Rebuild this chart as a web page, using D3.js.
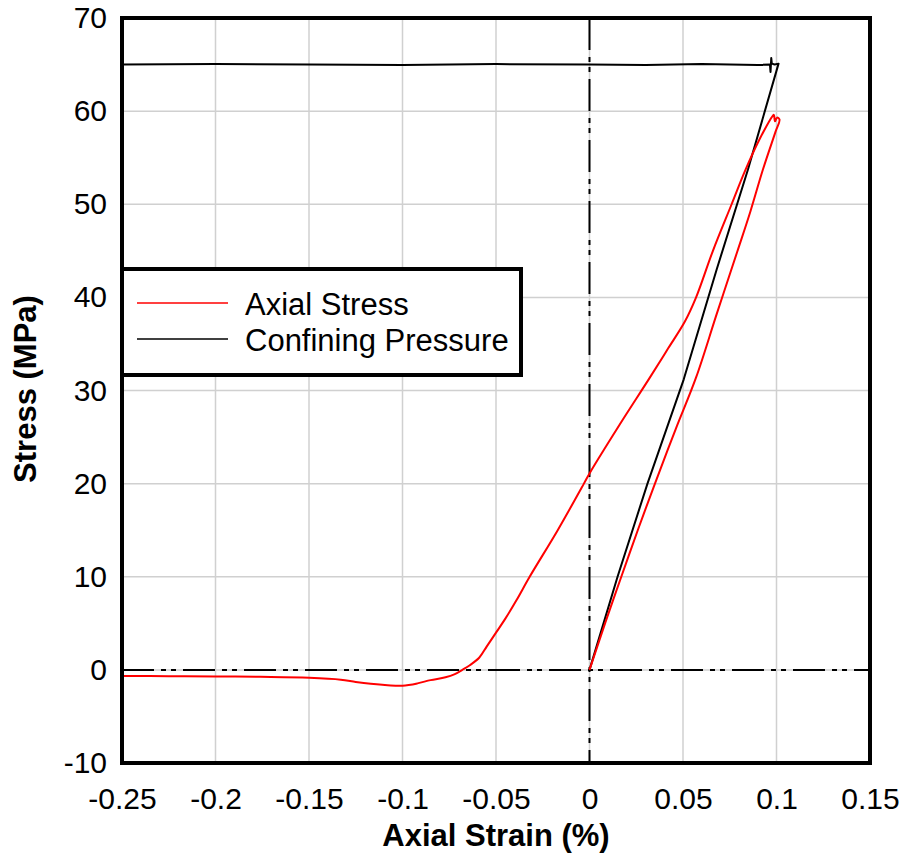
<!DOCTYPE html>
<html>
<head>
<meta charset="utf-8">
<script src="https://cdn.jsdelivr.net/npm/d3@7"></script>
<style>
  body { margin: 0; background: #fff; }
  svg { display: block; }
</style>
</head>
<body>
<svg id="mysvg"></svg>
<script>
// ticks
let xTicks = [-0.25, -0.2, -0.15, -0.1, -0.05, 0, 0.05, 0.1, 0.15];
let xTickLabels = ["-0.25", "-0.2", "-0.15", "-0.1", "-0.05", "0", "0.05", "0.1", "0.15"];
let yTicks = [-10, 0, 10, 20, 30, 40, 50, 60, 70];
let yTickLabels = ["-10", "0", "10", "20", "30", "40", "50", "60", "70"];

// Axial Stress: strain (%) and stress (MPa)
let axialStrain = [0, 0.0085, 0.017, 0.026, 0.035, 0.046, 0.057, 0.068, 0.079, 0.086, 0.0927, 0.0995, 0.1016,
    0.1003, 0.0992, 0.0986, 0.098,
    0.091, 0.083, 0.076, 0.066, 0.057, 0.051, 0.042, 0.032, 0.016, 0, -0.003, -0.017, -0.032, -0.039,
    -0.045, -0.05, -0.055, -0.059, -0.064, -0.068, -0.072, -0.077, -0.085, -0.092, -0.1, -0.108,
    -0.117, -0.125, -0.133, -0.15, -0.176, -0.2, -0.225, -0.25];
let axialStress = [0, 5.1, 10, 15.1, 20, 25.8, 31.4, 38.2, 44.9, 49.2, 53.7, 57.8, 59.1,
    59.3, 58.9, 59.6, 59.5,
    57.0, 53.5, 50.0, 45.0, 40.0, 37.4, 34.5, 31.3, 26.3, 21.1, 20, 15, 10, 7.5,
    5.5, 4.0, 2.5, 1.3, 0.5, 0, -0.45, -0.8, -1.1, -1.45, -1.7, -1.65,
    -1.5, -1.3, -1.05, -0.85, -0.75, -0.7, -0.68, -0.65];

// Confining Pressure
let confStrain = [0, 0.015, 0.031, 0.0504, 0.068, 0.0847, 0.1011, 0.099, 0.0975, 0.0972, 0.0968, 0.0965,
    0.09, 0.06, 0.03, 0, -0.05, -0.1, -0.15, -0.2, -0.25];
let confPressure = [0, 10, 20, 31.2, 43.0, 53.7, 65.1, 65.0, 65.1, 65.7, 64.2, 65.0,
    64.95, 65.05, 64.95, 65.0, 65.05, 64.95, 65.0, 65.05, 65.0];

let axialData = axialStrain.map(function(d, i) { return {x: d, y: axialStress[i]}; });
let confData = confStrain.map(function(d, i) { return {x: d, y: confPressure[i]}; });

let fontFamily = "'Liberation Sans', Arial, sans-serif";

function draw() {
    var svg = d3.select("#mysvg")
        .attr("width", 906)
        .attr("height", 856);

    var left = 122, top = 18;
    var width = 748, height = 745;

    var x = d3.scaleLinear().domain([-0.25, 0.15]).range([0, width]);
    var y = d3.scaleLinear().domain([-10, 70]).range([height, 0]);

    var g = svg.append("g")
        .attr("transform", "translate(" + left + "," + top + ")");

    // grid
    g.append("g")
        .selectAll("line")
        .data(xTicks)
        .enter().append("line")
        .attr("x1", function(d) { return x(d); })
        .attr("x2", function(d) { return x(d); })
        .attr("y1", 0)
        .attr("y2", height)
        .attr("stroke", "#d0d0d0")
        .attr("stroke-width", 1.5);

    g.append("g")
        .selectAll("line")
        .data(yTicks)
        .enter().append("line")
        .attr("x1", 0)
        .attr("x2", width)
        .attr("y1", function(d) { return y(d); })
        .attr("y2", function(d) { return y(d); })
        .attr("stroke", "#d0d0d0")
        .attr("stroke-width", 1.5);

    // zero lines, dash-dot-dot
    g.append("line")
        .attr("x1", 0).attr("x2", width)
        .attr("y1", y(0)).attr("y2", y(0))
        .attr("stroke", "#000")
        .attr("stroke-width", 2)
        .attr("stroke-dasharray", "32,7,5,5,5,7");

    g.append("line")
        .attr("x1", x(0)).attr("x2", x(0))
        .attr("y1", 0).attr("y2", height)
        .attr("stroke", "#000")
        .attr("stroke-width", 2)
        .attr("stroke-dasharray", "32,7,5,5,5,7");

    var line = d3.line()
        .x(function(d) { return x(d.x); })
        .y(function(d) { return y(d.y); });

    var smooth = d3.line()
        .curve(d3.curveCatmullRom.alpha(0.5))
        .x(function(d) { return x(d.x); })
        .y(function(d) { return y(d.y); });

    g.append("path")
        .datum(confData)
        .attr("fill", "none")
        .attr("stroke", "#000")
        .attr("stroke-width", 2)
        .attr("stroke-linejoin", "round")
        .attr("d", line);

    g.append("path")
        .datum(axialData)
        .attr("fill", "none")
        .attr("stroke", "#ff0000")
        .attr("stroke-width", 2)
        .attr("stroke-linejoin", "round")
        .attr("d", smooth);

    // axes
    var xAxis = g.append("g")
        .attr("transform", "translate(0," + height + ")")
        .call(d3.axisBottom(x).tickValues(xTicks)
            .tickFormat(function(d, i) { return xTickLabels[i]; })
            .tickSize(0).tickPadding(25));
    xAxis.select(".domain").remove();
    xAxis.selectAll("text")
        .attr("font-family", fontFamily)
        .attr("font-size", "30px")
        .attr("fill", "#000");

    var yAxis = g.append("g")
        .call(d3.axisLeft(y).tickValues(yTicks)
            .tickFormat(function(d, i) { return yTickLabels[i]; })
            .tickSize(0).tickPadding(15));
    yAxis.select(".domain").remove();
    yAxis.selectAll("text")
        .attr("font-family", fontFamily)
        .attr("font-size", "30px")
        .attr("fill", "#000");

    // frame
    g.append("rect")
        .attr("x", 0).attr("y", 0)
        .attr("width", width).attr("height", height)
        .attr("fill", "none")
        .attr("stroke", "#000")
        .attr("stroke-width", 4);

    // legend
    var lg = svg.append("g")
        .attr("transform", "translate(" + left + ",269)");
    lg.append("rect")
        .attr("x", 0).attr("y", 0)
        .attr("width", 399).attr("height", 106)
        .attr("fill", "#fff")
        .attr("stroke", "#000")
        .attr("stroke-width", 4);

    var items = [{name: "Axial Stress", color: "#ff0000"}, {name: "Confining Pressure", color: "#000"}];
    items.forEach(function(it, i) {
        lg.append("line")
            .attr("x1", 15).attr("x2", 106)
            .attr("y1", 34 + i * 36).attr("y2", 34 + i * 36)
            .attr("stroke", it.color)
            .attr("stroke-width", 1.5);
        lg.append("text")
            .attr("x", 123)
            .attr("y", 46 + i * 36)
            .attr("font-family", fontFamily)
            .attr("font-size", "31px")
            .attr("fill", "#000")
            .text(it.name);
    });

    // titles
    svg.append("text")
        .attr("x", 496)
        .attr("y", 846)
        .attr("text-anchor", "middle")
        .attr("font-family", fontFamily)
        .attr("font-weight", "bold")
        .attr("font-size", "31px")
        .text("Axial Strain (%)");

    svg.append("text")
        .attr("transform", "translate(36,389) rotate(-90)")
        .attr("text-anchor", "middle")
        .attr("font-family", fontFamily)
        .attr("font-weight", "bold")
        .attr("font-size", "31px")
        .text("Stress (MPa)");
}

draw();
</script>
</body>
</html>
